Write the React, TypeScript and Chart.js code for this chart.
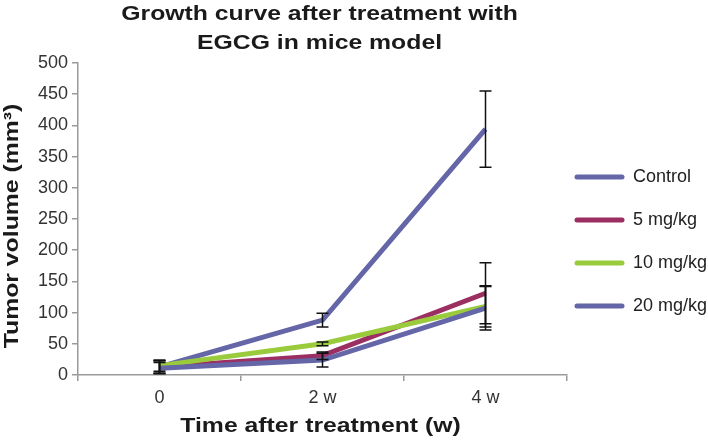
import React, { useEffect, useRef } from "react";
import { Chart, registerables } from "chart.js";

Chart.register(...registerables);

const categories = ["0", "2 w", "4 w"];
const seriesNames = ["Control", "5 mg/kg", "10 mg/kg", "20 mg/kg"];
const controlValues = [13, 88, 394];
const controlErrors = [10, 11, 61];
const mg5Values = [13, 31, 131];
const mg5Errors = [10, 6, 49];
const mg10Values = [15, 50, 110];
const mg10Errors = [9, 3, 33];
const mg20Values = [11, 24, 107];
const mg20Errors = [9, 11, 35];
const yTicks = { min: 0, max: 500, step: 50 };

const titleLines = ["Growth curve after treatment with", "EGCG in mice model"];
const xTitle = "Time after treatment (w)";
const yTitle = "Tumor volume (mm³)";

const colors = ["#6466A8", "#9C2F62", "#9ACB3C", "#6466A8"];
const FONT = "'Liberation Sans', Arial, sans-serif";
const TITLE_FONT = `bold 21px ${FONT}`;
const STRETCH = 1.18;

const errorBarPlugin = {
  id: "errorBars",
  afterDatasetsDraw(chart: any) {
    const ctx = chart.ctx;
    const xs = chart.scales.x;
    const ys = chart.scales.y;
    ctx.save();
    ctx.strokeStyle = "#111";
    ctx.lineWidth = 1.5;
    chart.data.datasets.forEach((ds: any) => {
      const errs: number[] = ds.errors;
      ds.data.forEach((v: number, j: number) => {
        const x = xs.getPixelForValue(j);
        const yt = ys.getPixelForValue(v + errs[j]);
        const yb = ys.getPixelForValue(Math.max(0, v - errs[j]));
        ctx.beginPath();
        ctx.moveTo(x, yt);
        ctx.lineTo(x, yb);
        ctx.moveTo(x - 6, yt);
        ctx.lineTo(x + 6, yt);
        ctx.moveTo(x - 6, yb);
        ctx.lineTo(x + 6, yb);
        ctx.stroke();
      });
    });
    ctx.restore();
  },
};

function stretchedText(ctx: any, text: string, x: number, y: number, rot: number) {
  ctx.save();
  ctx.translate(x, y);
  if (rot) ctx.rotate(rot);
  ctx.scale(STRETCH, 1);
  ctx.fillText(text, 0, 0);
  ctx.restore();
}

const titlesPlugin = {
  id: "stretchedTitles",
  afterDraw(chart: any) {
    const ctx = chart.ctx;
    const a = chart.chartArea;
    const cx = (a.left + a.right) / 2;
    const cy = (a.top + a.bottom) / 2;
    ctx.save();
    ctx.font = TITLE_FONT;
    ctx.fillStyle = "#1a1a1a";
    ctx.textAlign = "center";
    ctx.textBaseline = "alphabetic";
    stretchedText(ctx, titleLines[0], cx - 3, 20, 0);
    stretchedText(ctx, titleLines[1], cx - 3, 49, 0);
    stretchedText(ctx, xTitle, cx - 2, 432, 0);
    stretchedText(ctx, yTitle, 18, cy + 7, -Math.PI / 2);
    ctx.restore();
  },
};

const legendPlugin = {
  id: "customLegend",
  afterDraw(chart: any) {
    const ctx = chart.ctx;
    const area = chart.chartArea;
    const x0 = area.right + 10;
    ctx.save();
    ctx.font = `18px ${FONT}`;
    ctx.textBaseline = "middle";
    ctx.fillStyle = "#222";
    seriesNames.forEach((name, i) => {
      const y = 177 + i * 43;
      ctx.strokeStyle = colors[i];
      ctx.lineWidth = 5;
      ctx.lineCap = "round";
      ctx.beginPath();
      ctx.moveTo(x0, y);
      ctx.lineTo(x0 + 45, y);
      ctx.stroke();
      ctx.fillText(name, x0 + 56, y);
    });
    ctx.restore();
  },
};

export default function App() {
  const ref = useRef<HTMLCanvasElement>(null);
  useEffect(() => {
    document.body.style.margin = "0";
    const valuesList = [controlValues, mg5Values, mg10Values, mg20Values];
    const errorsList = [controlErrors, mg5Errors, mg10Errors, mg20Errors];
    const chart = new Chart(ref.current!, {
      type: "line",
      data: {
        labels: categories,
        datasets: seriesNames.map((name, i) => ({
          label: name,
          data: valuesList[i],
          errors: errorsList[i],
          borderColor: colors[i],
          backgroundColor: colors[i],
          borderWidth: 5,
          pointRadius: 0,
          tension: 0,
          order: 3 - i,
        })) as any,
      },
      options: {
        responsive: false,
        animation: false,
        layout: { padding: { left: 0, right: 141, top: 63, bottom: 0 } },
        plugins: {
          legend: { display: false },
          tooltip: { enabled: false },
          title: { display: false },
        },
        scales: {
          x: {
            offset: true,
            grid: {
              offset: true,
              drawOnChartArea: false,
              drawTicks: true,
              tickLength: 6,
              color: "#9a9a9a",
              lineWidth: 1.5,
            },
            border: { color: "#9a9a9a", width: 1.5 },
            ticks: { color: "#333", font: { family: FONT, size: 18 }, padding: 6 },
            afterFit(scale: any) {
              scale.height = 65;
            },
          },
          y: {
            min: yTicks.min,
            max: yTicks.max,
            grid: {
              drawOnChartArea: false,
              drawTicks: true,
              tickLength: 6,
              color: "#9a9a9a",
              lineWidth: 1.5,
            },
            border: { color: "#9a9a9a", width: 1.5 },
            ticks: {
              stepSize: yTicks.step,
              color: "#333",
              font: { family: FONT, size: 18 },
              padding: 4,
            },
            afterFit(scale: any) {
              scale.width = 78;
            },
          },
        },
      },
      plugins: [errorBarPlugin, titlesPlugin, legendPlugin],
    });
    return () => chart.destroy();
  }, []);
  return <canvas ref={ref} width={708} height={440} style={{ display: "block" }} />;
}
